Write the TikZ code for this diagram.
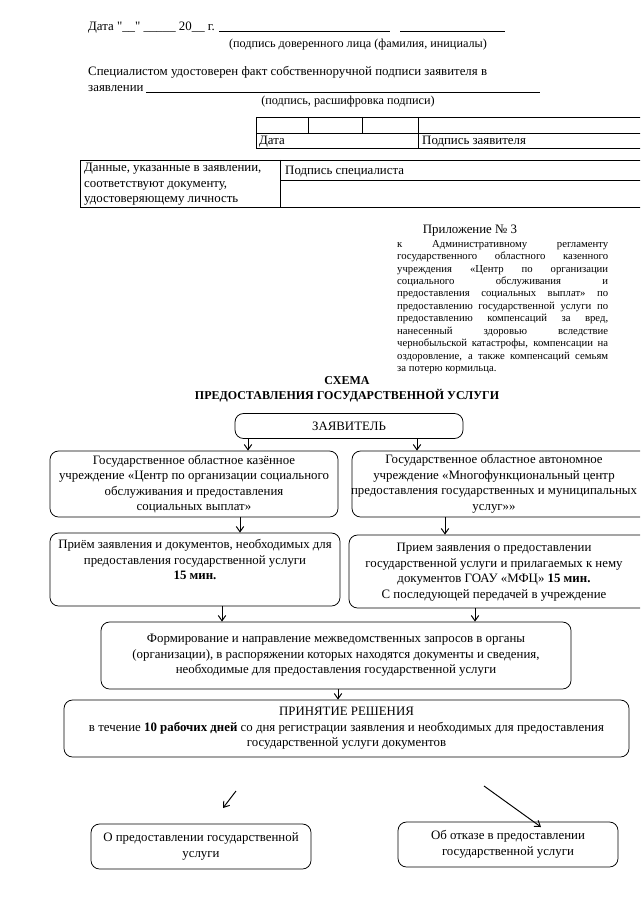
\documentclass[tikz,border=0pt]{standalone}
\usepackage{fontspec}
\setmainfont{Liberation Serif}
\newfontfamily\qfont{Liberation Serif}
\usetikzlibrary{arrows.meta, positioning}
\newlength{\pxl}
\setlength{\pxl}{0.0328125cm}
\newcommand{\txtN}{\fontsize{12}{14.5}\selectfont}
\newcommand{\txtM}{\fontsize{11.4}{13.5}\selectfont}
\newcommand{\txtS}{\fontsize{10}{11.6}\selectfont}
\newcommand{\jl}[1]{\makebox[211\pxl][s]{#1}}
\tikzset{
  txt/.style={inner sep=0pt, font=\txtN},
  txtL/.style={inner sep=0pt, font=\txtN, anchor=base west},
  box/.style={draw=black, rounded corners=8pt, line width=0.7pt,
              align=center, inner sep=2pt, font=\txtN},
  frame/.style={draw=black, line width=0.6pt},
  arr/.style={-{Straight Barb[length=5pt,width=7pt]}, line width=0.9pt},
}
\begin{document}
\begin{tikzpicture}[x=\pxl, y=-\pxl]
    \useasboundingbox (0,0) rectangle (640,905);
    \clip (0,0) rectangle (640,905);
    %% header lines
    \node[txtL] (date) at (88,31) {Дата {\qfont"}\_\_{\qfont"} \_\_\_\_\_ 20\_\_ г.};
    \draw[frame] (219,31) -- (390,31);
    \draw[frame] (400,31) -- (505,31);
    \node[txt, font=\txtM] (sign1) at (358,45) {(подпись доверенного лица (фамилия, инициалы)};
    \node[txtL] (spec) at (88,76) {\makebox[399\pxl][s]{Специалистом удостоверен факт собственноручной подписи заявителя в}};
    \node[txtL] (zayav) at (88,92) {заявлении};
    \draw[frame] (146,92) -- (540,92);
    \node[txt, font=\txtM] (sign2) at (348,102) {(подпись, расшифровка подписи)};
    %% table 1
    \draw[frame] (256,117) rectangle (660,148);
    \draw[frame] (256,133) -- (660,133);
    \draw[frame] (308,117) -- (308,133);
    \draw[frame] (362,117) -- (362,133);
    \draw[frame] (418,117) -- (418,148);
    \node[txtL] (tdate) at (259,145) {Дата};
    \node[txtL] (tsign) at (422,145) {Подпись заявителя};
    %% table 2
    \draw[frame] (80,160) rectangle (660,207);
    \draw[frame] (280,160) -- (280,207);
    \draw[frame] (280,180) -- (660,180);
    \node[txt, anchor=north west, align=left] (data) at (84,163)
        {Данные, указанные в заявлении,\\соответствуют документу,\\удостоверяющему личность};
    \node[txtL] (tspec) at (285,175) {Подпись специалиста};
    %% appendix
    \node[txt] (pril) at (470,231) {Приложение № 3};
    \node[txt, font=\txtS, anchor=north west, align=left] (prilT) at (397,240)
        {\jl{к Административному регламенту}\\
         \jl{государственного областного казенного}\\
         \jl{учреждения «Центр по организации}\\
         \jl{социального обслуживания и}\\
         \jl{предоставления социальных выплат» по}\\
         \jl{предоставлению государственной услуги по}\\
         \jl{предоставлению компенсаций за вред,}\\
         \jl{нанесенный здоровью вследствие}\\
         \jl{чернобыльской катастрофы, компенсации на}\\
         \jl{оздоровление, а также компенсаций семьям}\\
         за потерю кормильца.};
    %% title
    \node[txt, font=\fontsize{11.2}{14}\selectfont\bfseries, align=center] (title) at (347,389)
        {СХЕМА\\ПРЕДОСТАВЛЕНИЯ ГОСУДАРСТВЕННОЙ УСЛУГИ};
    %% scheme
    \node[box, minimum width=228*\pxl, minimum height=25*\pxl] (app) at (349,426) {ЗАЯВИТЕЛЬ};
    \node[box, minimum width=288*\pxl, minimum height=66*\pxl] (gku) at (194,484)
        {Государственное областное казённое\\учреждение «Центр по организации социального\\обслуживания и предоставления\\социальных выплат»};
    \node[box, minimum width=308*\pxl, minimum height=66*\pxl] (mfc) at (506,484) {};
    \node[txt, align=center] (mfcT) at (494,484)
        {Государственное областное автономное\\учреждение «Многофункциональный центр\\предоставления государственных и муниципальных\\услуг»»};
    \node[box, minimum width=290*\pxl, minimum height=73*\pxl] (pr1) at (195,569.5)
        {Приём заявления и документов, необходимых для\\предоставления государственной услуги\\\textbf{15 мин.}\\[4pt]};
    \node[box, minimum width=311*\pxl, minimum height=73*\pxl] (pr2) at (504.5,571.5) {};
    \node[txt, align=center] (pr2T) at (494,572)
        {Прием заявления о предоставлении\\государственной услуги и прилагаемых к нему\\документов ГОАУ «МФЦ» \textbf{15 мин.}\\С последующей передачей в учреждение};
    \node[box, minimum width=470*\pxl, minimum height=67*\pxl] (form) at (336,655.5)
        {Формирование и направление межведомственных запросов в органы\\(организации), в распоряжении которых находятся документы и сведения,\\необходимые для предоставления государственной услуги};
    \node[box, minimum width=565*\pxl, minimum height=57*\pxl] (resh) at (346.5,728.5)
        {ПРИНЯТИЕ РЕШЕНИЯ\\в течение \textbf{10 рабочих дней} со дня регистрации заявления и необходимых для предоставления\\государственной услуги документов};
    \node[box, minimum width=220*\pxl, minimum height=45*\pxl] (yes) at (201,846.5)
        {О предоставлении государственной\\услуги};
    \node[box, minimum width=220*\pxl, minimum height=45*\pxl] (no) at (508,844.5)
        {Об отказе в предоставлении\\государственной услуги};
    %% arrows
    \coordinate (a1) at (248,0);
    \coordinate (a2) at (417,0);
    \coordinate (a3) at (240,0);
    \coordinate (a4) at (445,0);
    \coordinate (a5) at (222,0);
    \coordinate (a6) at (475,0);
    \coordinate (a7) at (338,0);
    \draw[arr] (app.south -| a1) -- (gku.north -| a1);
    \draw[arr] (app.south -| a2) -- (mfc.north -| a2);
    \draw[arr] (gku.south -| a3) -- (pr1.north -| a3);
    \draw[arr] (mfc.south -| a4) -- (pr2.north -| a4);
    \draw[arr] (pr1.south -| a5) -- (form.north -| a5);
    \draw[arr] (pr2.south -| a6) -- (form.north -| a6);
    \draw[arr] (form.south -| a7) -- (resh.north -| a7);
    \coordinate (yesT) at (236,791);
    \coordinate (yesH) at (223,808);
    \coordinate (noT) at (484,786);
    \coordinate (noH) at (541,827);
    \draw[arr] (yesT) -- (yesH);
    \draw[arr] (noT) -- (noH);
\end{tikzpicture}
\end{document}
